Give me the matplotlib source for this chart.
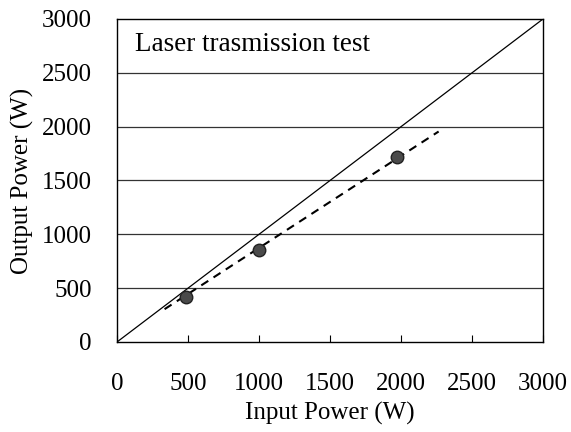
import matplotlib
matplotlib.use("Agg")
import matplotlib.pyplot as plt

input_power = [486, 1000, 1972]
output_power = [418, 852, 1718]
fit_x = [335, 2265]
fit_y = [305, 1955]
ref_x = [0, 3000]
ref_y = [0, 3000]
ticks = [0, 500, 1000, 1500, 2000, 2500, 3000]

plt.rcParams['font.family'] = ['Liberation Serif', 'DejaVu Serif']

fig = plt.figure(figsize=(5.71, 4.32), dpi=100)
ax = fig.add_axes([117/571, 1 - 342/432, 426/571, 323/432])

for t in ticks[1:-1]:
    ax.axhline(t, color='#333333', lw=0.9, zorder=1)
ax.plot(ref_x, ref_y, color='black', lw=0.9, zorder=2)
ax.plot(fit_x, fit_y, color='black', lw=1.5, ls=(0, (4, 3)), zorder=2)
ax.plot(input_power, output_power, 'o', ms=9, mfc='#4a4a4a', mec='#222222', mew=1, zorder=3)

ax.set_xlim(0, 3000)
ax.set_ylim(0, 3000)
ax.set_xticks(ticks)
ax.set_yticks(ticks)
ax.tick_params(axis='x', direction='in', length=5, width=0.8, pad=22, labelsize=18)
ax.tick_params(axis='y', length=0, pad=18, labelsize=18)
for s in ax.spines.values():
    s.set_linewidth(1.0)
ax.set_xlabel('Input Power (W)', fontsize=18, labelpad=5)
ax.set_ylabel('Output Power (W)', fontsize=18, labelpad=6)
ax.text(0.043, 0.92, 'Laser trasmission test', transform=ax.transAxes, fontsize=19.5, va='center', ha='left')

fig.savefig('out.png', dpi=100)
